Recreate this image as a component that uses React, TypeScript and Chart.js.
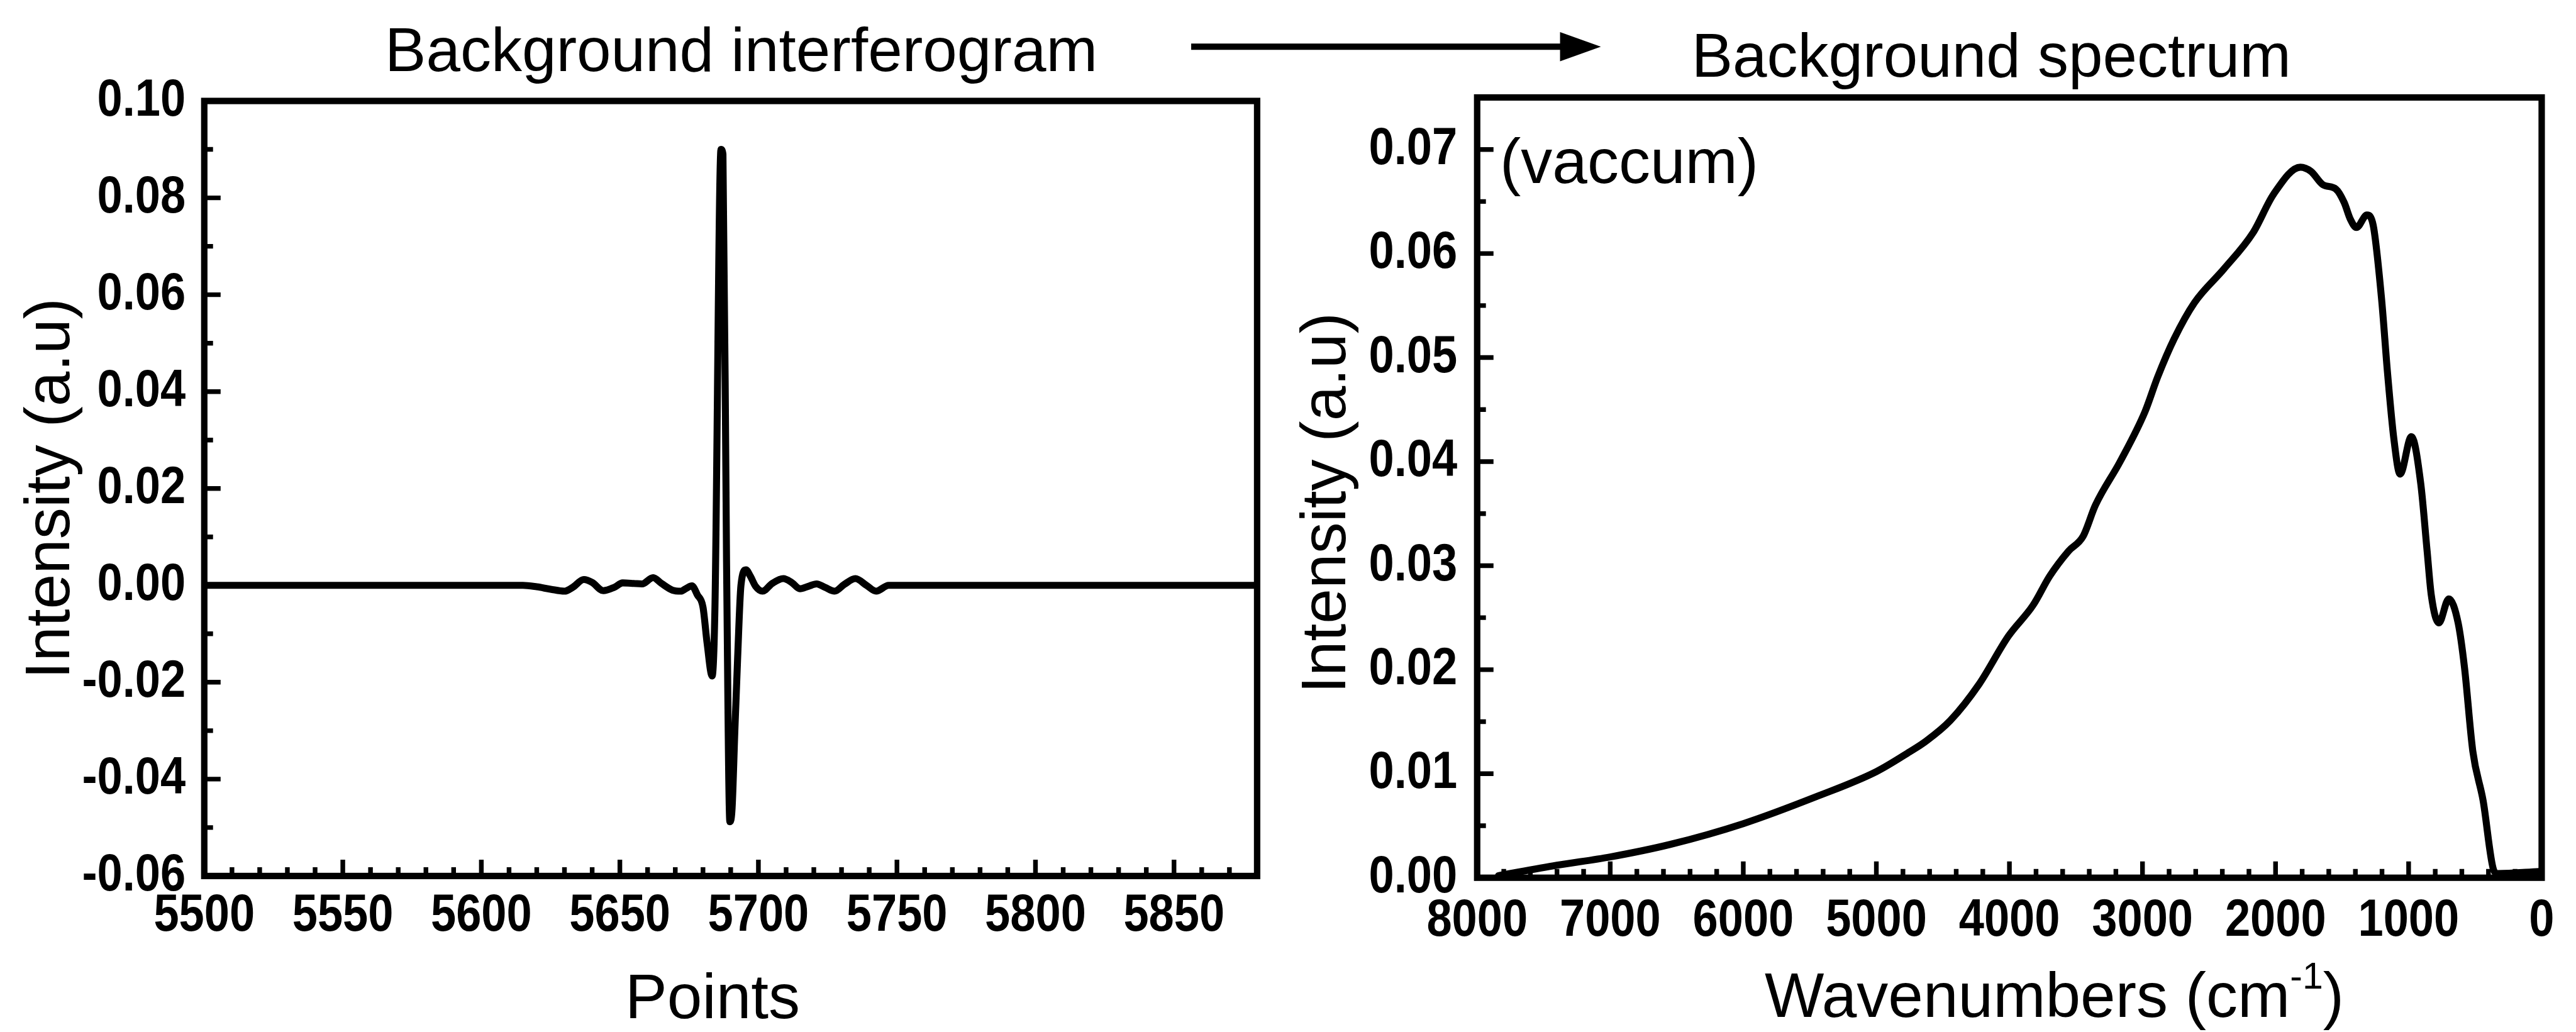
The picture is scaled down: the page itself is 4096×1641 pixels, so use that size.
import React, { useEffect, useRef } from 'react';
import { Chart, registerables } from 'chart.js';

Chart.register(...registerables);

// ---------------- data: background interferogram ----------------
const interfPoints = [5500, 5560, 5615, 5620, 5625, 5630, 5633, 5637, 5640, 5644, 5648, 5651, 5655, 5658, 5662, 5665, 5669, 5672, 5674, 5676, 5678, 5680, 5681.5, 5683.3, 5684.3, 5686.5, 5687.2, 5688.5, 5689.7, 5690.5, 5691.5, 5692.5, 5693.7, 5695.5, 5697, 5699, 5701.5, 5705, 5709, 5712, 5715, 5718, 5721, 5724, 5727.5, 5731, 5735, 5739, 5742.5, 5747, 5780, 5880];
const interfIntensity = [0, 0, 0, -0.0003, -0.0008, -0.0012, -0.0004, 0.0012, 0.0006, -0.0011, -0.0004, 0.0005, 0.0004, 0.0003, 0.0016, 0.0004, -0.001, -0.0012, -0.0006, -0.0001, -0.002, -0.0045, -0.012, -0.0187, -0.005, 0.09, 0.089, 0.005, -0.0488, -0.046, -0.03, -0.015, 0, 0.0032, 0.002, -0.0002, -0.0012, 0.0004, 0.0014, 0.0006, -0.0007, -0.0002, 0.0003, -0.0004, -0.0012, 0.0002, 0.0014, 0, -0.0012, 0, 0, 0];
const interfXRange = [5500, 5880];
const interfYRange = [-0.06, 0.1];
const interfXTicks = [5500, 5550, 5600, 5650, 5700, 5750, 5800, 5850];
const interfXTickLabels = ['5500', '5550', '5600', '5650', '5700', '5750', '5800', '5850'];
const interfYTicks = [-0.06, -0.04, -0.02, 0, 0.02, 0.04, 0.06, 0.08, 0.1];
const interfYTickLabels = ['-0.06', '-0.04', '-0.02', '0.00', '0.02', '0.04', '0.06', '0.08', '0.10'];
const interfXMinor = 10;
const interfYMinor = 0.01;

// ---------------- data: background spectrum ----------------
const wavenumbers = [7840, 7400, 7000, 6550, 6000, 5450, 5000, 4750, 4630, 4445, 4228, 4009, 3822, 3697, 3556, 3447, 3354, 3168, 2981, 2887, 2762, 2608, 2389, 2169, 2015, 1813, 1734, 1642, 1547, 1484, 1438, 1392, 1313, 1266, 1203, 1159, 1111, 1064, 979, 909, 861, 830, 773, 698, 628, 580, 518, 440, 360, 330, 20];
const spectrumIntensity = [0.0002, 0.0012, 0.002, 0.0032, 0.0052, 0.0078, 0.0102, 0.0121, 0.0131, 0.0151, 0.0186, 0.0232, 0.0262, 0.029, 0.0314, 0.0328, 0.0358, 0.04, 0.0448, 0.0481, 0.0518, 0.0553, 0.0585, 0.062, 0.0657, 0.0683, 0.0679, 0.0666, 0.0662, 0.0649, 0.0633, 0.0625, 0.0637, 0.0627, 0.0556, 0.0486, 0.0422, 0.0388, 0.0424, 0.0379, 0.0314, 0.0272, 0.0245, 0.0268, 0.0245, 0.0202, 0.0122, 0.0074, 0.0007, 0.0004, 0.0006];
const specXRange = [0, 8000];
const specYRange = [0, 0.075];
const specXTicks = [8000, 7000, 6000, 5000, 4000, 3000, 2000, 1000, 0];
const specXTickLabels = ['8000', '7000', '6000', '5000', '4000', '3000', '2000', '1000', '0'];
const specYTicks = [0, 0.01, 0.02, 0.03, 0.04, 0.05, 0.06, 0.07];
const specYTickLabels = ['0.00', '0.01', '0.02', '0.03', '0.04', '0.05', '0.06', '0.07'];
const specXMinor = 200;
const specYMinor = 0.005;

// ---------------- texts ----------------
const leftTitle = 'Background interferogram';
const rightTitle = 'Background spectrum';
const leftXTitle = 'Points';
const yTitle = 'Intensity (a.u)';
const rightXTitleMain = 'Wavenumbers (cm';
const rightXTitleSup = '-1';
const rightXTitleEnd = ')';
const annotation = '(vaccum)';

// ---------------- layout (scaled) ----------------
const S = 0.928;
const W = 4096;
const H = 1641;
const FAMILY = '"Liberation Sans", Arial, Helvetica, sans-serif';
const TITLE_FONT = `${Math.round(106 * S)}px ${FAMILY}`;
const AXIS_FONT = `${Math.round(108 * S)}px ${FAMILY}`;
const SUP_FONT = `${Math.round(64 * S)}px ${FAMILY}`;
const TICK_FONT_CSS = `bold ${Math.round(90 * S)}px ${FAMILY}`;
const TICK_SQUEEZE = 0.86;
const FRAME_W = 11 * S;
const TICK_W = 8 * S;
const LINE_W = 12 * S;
const MAJOR_LEN = 28 * S;
const MINOR_LEN = 15 * S;

const LEFT_AREA = { l: 350 * S, r: 2154 * S, t: 173 * S, b: 1501 * S, xLab: 69 * S, yLab: 32 * S };
const RIGHT_AREA = { l: 2531 * S, r: 4355 * S, t: 167 * S, b: 1504 * S, xLab: 74 * S, yLab: 34 * S };

function squeezedText(ctx: CanvasRenderingContext2D, text: string, x: number, y: number, align: CanvasTextAlign) {
  ctx.save();
  ctx.translate(x, y);
  ctx.scale(TICK_SQUEEZE, 1);
  ctx.textAlign = align;
  ctx.textBaseline = 'middle';
  ctx.fillText(text, 0, 0);
  ctx.restore();
}

function drawAxes(
  chart: any, xMajors: number[], xLabels: string[], xMinor: number,
  yMajors: number[], yLabels: string[], yMinor: number, area: any,
) {
  const { ctx, chartArea: a, scales } = chart;
  const xs = scales.x;
  const ys = scales.y;
  ctx.save();
  ctx.strokeStyle = '#000';
  ctx.fillStyle = '#000';
  ctx.lineCap = 'butt';
  ctx.lineWidth = TICK_W;
  ctx.beginPath();
  const nx = Math.round((xs.max - xs.min) / xMinor);
  for (let i = 0; i <= nx; i++) {
    const v = xs.min + i * xMinor;
    const major = xMajors.some((m) => Math.abs(m - v) < xMinor / 100);
    const px = xs.getPixelForValue(v);
    ctx.moveTo(px, a.bottom);
    ctx.lineTo(px, a.bottom - (major ? MAJOR_LEN : MINOR_LEN));
  }
  const ny = Math.round((ys.max - ys.min) / yMinor);
  for (let i = 0; i <= ny; i++) {
    const v = ys.min + i * yMinor;
    const major = yMajors.some((m) => Math.abs(m - v) < yMinor / 100);
    const py = ys.getPixelForValue(v);
    ctx.moveTo(a.left, py);
    ctx.lineTo(a.left + (major ? MAJOR_LEN : MINOR_LEN), py);
  }
  ctx.stroke();
  ctx.lineWidth = FRAME_W;
  ctx.lineJoin = 'miter';
  ctx.strokeRect(a.left, a.top, a.right - a.left, a.bottom - a.top);
  // tick labels (condensed bold, positioned by the chart's own scales)
  ctx.font = TICK_FONT_CSS;
  xMajors.forEach((v, i) => {
    squeezedText(ctx, xLabels[i], xs.getPixelForValue(v), a.bottom + area.xLab, 'center');
  });
  yMajors.forEach((v, i) => {
    squeezedText(ctx, yLabels[i], a.left - area.yLab, ys.getPixelForValue(v), 'right');
  });
  ctx.restore();
}

function drawRotatedTitle(ctx: CanvasRenderingContext2D, text: string, baselineX: number, centerY: number) {
  ctx.save();
  ctx.translate(baselineX, centerY);
  ctx.rotate(-Math.PI / 2);
  ctx.font = AXIS_FONT;
  ctx.fillStyle = '#000';
  ctx.textAlign = 'center';
  ctx.textBaseline = 'alphabetic';
  ctx.fillText(text, 0, 0);
  ctx.restore();
}

const leftDecor = {
  id: 'leftDecor',
  afterDraw(chart: any) {
    const { ctx, chartArea: a } = chart;
    drawAxes(chart, interfXTicks, interfXTickLabels, interfXMinor, interfYTicks, interfYTickLabels, interfYMinor, LEFT_AREA);
    ctx.save();
    ctx.fillStyle = '#000';
    ctx.font = TITLE_FONT;
    ctx.textAlign = 'center';
    ctx.textBaseline = 'alphabetic';
    ctx.fillText(leftTitle, 1270 * S, 122 * S);
    ctx.font = AXIS_FONT;
    ctx.fillText(leftXTitle, 1221 * S, 1745 * S);
    // arrow between the panels
    const y = 80 * S;
    const x0 = 2041 * S;
    const x1 = 2743 * S;
    const head = 70 * S;
    ctx.strokeStyle = '#000';
    ctx.lineWidth = 11 * S;
    ctx.beginPath();
    ctx.moveTo(x0, y);
    ctx.lineTo(x1 - head + 4, y);
    ctx.stroke();
    ctx.beginPath();
    ctx.moveTo(x1, y);
    ctx.lineTo(x1 - head, y - 25 * S);
    ctx.lineTo(x1 - head, y + 25 * S);
    ctx.closePath();
    ctx.fill();
    ctx.restore();
    drawRotatedTitle(ctx, yTitle, 118 * S, (a.top + a.bottom) / 2);
  },
};

const rightDecor = {
  id: 'rightDecor',
  afterDraw(chart: any) {
    const { ctx } = chart;
    drawAxes(chart, specXTicks, specXTickLabels, specXMinor, specYTicks, specYTickLabels, specYMinor, RIGHT_AREA);
    ctx.save();
    ctx.fillStyle = '#000';
    ctx.font = TITLE_FONT;
    ctx.textAlign = 'center';
    ctx.textBaseline = 'alphabetic';
    ctx.fillText(rightTitle, 3412 * S, 131 * S);
    ctx.textAlign = 'left';
    ctx.font = AXIS_FONT;
    ctx.fillText(annotation, 2570 * S, 314 * S);
    // x title with superscript
    ctx.font = AXIS_FONT;
    const w1 = ctx.measureText(rightXTitleMain).width;
    const w3 = ctx.measureText(rightXTitleEnd).width;
    ctx.font = SUP_FONT;
    const w2 = ctx.measureText(rightXTitleSup).width;
    const cx = 3520 * S;
    const base = 1742 * S;
    let x = cx - (w1 + w2 + w3) / 2;
    ctx.font = AXIS_FONT;
    ctx.fillText(rightXTitleMain, x, base);
    x += w1;
    ctx.font = SUP_FONT;
    ctx.fillText(rightXTitleSup, x, base - 48 * S);
    x += w2;
    ctx.font = AXIS_FONT;
    ctx.fillText(rightXTitleEnd, x, base);
    ctx.restore();
    drawRotatedTitle(ctx, yTitle, 2305 * S, 862 * S);
  },
};

function makeConfig(
  xs: number[], ys: number[], xRange: number[], yRange: number[],
  xTicks: number[], yTicks: number[],
  area: { l: number; r: number; t: number; b: number }, reverse: boolean, plugin: any,
): any {
  return {
    type: 'line',
    data: {
      datasets: [{
        data: xs.map((x, i) => ({ x, y: ys[i] })),
        borderColor: '#000',
        borderWidth: LINE_W,
        pointRadius: 0,
        fill: false,
        cubicInterpolationMode: 'monotone',
        borderJoinStyle: 'round',
        borderCapStyle: 'round',
      }],
    },
    options: {
      animation: false,
      responsive: false,
      devicePixelRatio: 1,
      events: [],
      layout: { autoPadding: false, padding: { left: 0, top: area.t, right: W - area.r, bottom: 0 } },
      plugins: { legend: { display: false }, tooltip: { enabled: false }, title: { display: false } },
      scales: {
        x: {
          type: 'linear',
          min: xRange[0],
          max: xRange[1],
          reverse,
          grid: { display: false },
          border: { display: false },
          afterBuildTicks: (s: any) => { s.ticks = xTicks.map((v) => ({ value: v })); },
          afterFit: (s: any) => { s.height = H - area.b; },
          ticks: { display: false },
        },
        y: {
          type: 'linear',
          min: yRange[0],
          max: yRange[1],
          grid: { display: false },
          border: { display: false },
          afterBuildTicks: (s: any) => { s.ticks = yTicks.map((v) => ({ value: v })); },
          afterFit: (s: any) => { s.width = area.l; },
          ticks: { display: false },
        },
      },
    },
    plugins: [plugin],
  };
}

export default function App() {
  const leftRef = useRef<HTMLCanvasElement | null>(null);
  const rightRef = useRef<HTMLCanvasElement | null>(null);

  useEffect(() => {
    const c1 = new Chart(leftRef.current as HTMLCanvasElement, makeConfig(
      interfPoints, interfIntensity, interfXRange, interfYRange,
      interfXTicks, interfYTicks, LEFT_AREA, false, leftDecor,
    ));
    const c2 = new Chart(rightRef.current as HTMLCanvasElement, makeConfig(
      wavenumbers, spectrumIntensity, specXRange, specYRange,
      specXTicks, specYTicks, RIGHT_AREA, true, rightDecor,
    ));
    return () => { c1.destroy(); c2.destroy(); };
  }, []);

  const canvasStyle: React.CSSProperties = { position: 'absolute', left: 0, top: 0, width: W, height: H };
  return (
    <div style={{ position: 'fixed', left: 0, top: 0, width: W, height: H, background: '#fff', overflow: 'hidden' }}>
      <canvas ref={leftRef} width={W} height={H} style={canvasStyle} />
      <canvas ref={rightRef} width={W} height={H} style={canvasStyle} />
    </div>
  );
}
